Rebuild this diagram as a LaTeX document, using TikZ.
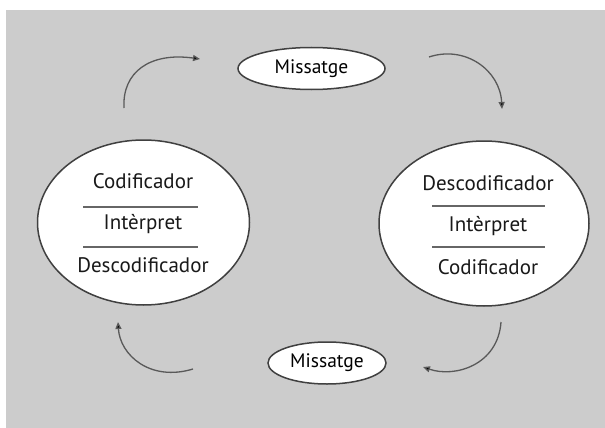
\documentclass[tikz,border=0pt]{standalone}
\usepackage{fontspec}
\setmainfont{PT Sans}
\usetikzlibrary{shapes.geometric,arrows.meta}
\definecolor{bggray}{HTML}{CCCCCC}
\definecolor{edge}{HTML}{404040}
\tikzset{
  bigell/.style={ellipse, draw=edge, line width=1.5pt, fill=white, inner sep=0pt,
    minimum width=212pt, minimum height=165pt},
  msgell/.style={ellipse, draw=edge, line width=1.5pt, fill=white, inner sep=0pt,
    font=\fontsize{19.5}{22}\selectfont},
  lbl/.style={font=\fontsize{21}{24}\selectfont, inner sep=0pt, text=black!90},
  sep/.style={draw=black!60, line width=1.3pt},
  flow/.style={draw=black!65, line width=1.3pt, -{Triangle[length=7pt,width=6pt,fill=black]}},
}
\begin{document}
\begin{tikzpicture}[x=1pt,y=-1pt]
\useasboundingbox (0,0) rectangle (605,428);
\fill[white] (0,0) rectangle (605,428);
\fill[bggray] (6,10) rectangle (605,428);

% big ellipses
\node[bigell] (L) at (143.5,222.5) {};
\node[bigell, minimum width=210pt] (R) at (484,223.5) {};

% left texts
\node[lbl] (l1) at (143,181) {Codificador};
\node[lbl] (l2) at (143,224) {Intèrpret};
\node[lbl] (l3) at (143,265) {Descodificador};
\draw[sep] (83,207) -- (198,207);
\draw[sep] (83,247) -- (198,247);

% right texts
\node[lbl] (r1) at (488,183) {Descodificador};
\node[lbl] (r2) at (488,226) {Intèrpret};
\node[lbl] (r3) at (488,267) {Codificador};
\draw[sep] (432,206) -- (545,206);
\draw[sep] (432,247) -- (545,247);

% message ellipses
\node[msgell, minimum width=147pt, minimum height=42pt] (mt) at (311.5,68.5) {Missatge};
\node[msgell, minimum width=118pt, minimum height=42pt] (mb) at (327,363) {Missatge};

% arrow end points
\coordinate (a1s) at (124,108);
\coordinate (a1e) at (200,59);
\coordinate (a2s) at (429,57);
\coordinate (a2e) at (502,109);
\coordinate (a3s) at (501,322);
\coordinate (a3e) at (423,367);
\coordinate (a4s) at (193,369);
\coordinate (a4e) at (118,322);

\draw[flow] (a1s) .. controls (122,72) and (150,52) .. (a1e);
\draw[flow] (a2s) .. controls (465,45) and (500,70) .. (a2e);
\draw[flow] (a3s) .. controls (498,365) and (455,378) .. (a3e);
\draw[flow] (a4s) .. controls (150,382) and (120,355) .. (a4e);
\end{tikzpicture}
\end{document}
